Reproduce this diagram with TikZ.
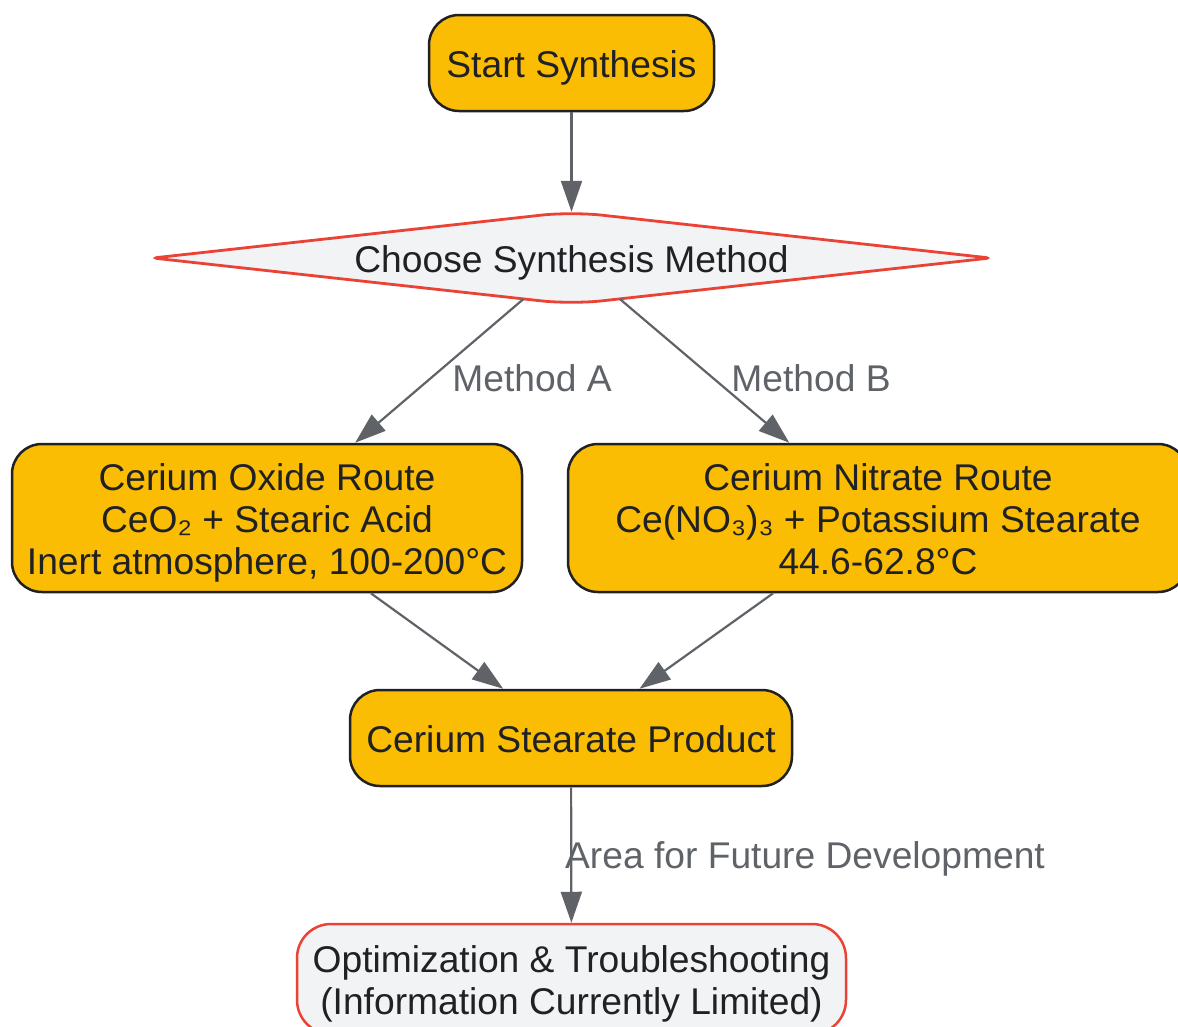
\documentclass[tikz,border=0pt]{standalone}
\usepackage{fontspec}
\setmainfont{Liberation Sans}
\usetikzlibrary{arrows.meta,shapes.geometric,calc}
\definecolor{gold}{HTML}{FBBC04}
\definecolor{redline}{HTML}{EA4335}
\definecolor{lightfill}{HTML}{F1F3F4}
\definecolor{edgegray}{HTML}{5F6368}
\definecolor{textdark}{HTML}{202124}
\newcommand\mystrut{\rule{0pt}{37pt}}
\newcommand\mydepth{\rule[-8pt]{0pt}{8pt}}
\tikzset{
  base/.style={font=\fontsize{37.2}{42}\selectfont, text=textdark, align=center, inner sep=0pt},
  goldbox/.style={base, rectangle, rounded corners=30pt, draw=textdark, line width=2.5pt, fill=gold},
  greybox/.style={base, rectangle, rounded corners=34pt, draw=redline, line width=2.5pt, fill=lightfill},
  choice/.style={base, diamond, draw=none, minimum width=837pt, minimum height=92pt},
  choiceline/.style={draw=redline, line width=2.8pt, fill=lightfill},
  conn/.style={draw=edgegray, line width=2.2pt, -{Triangle[length=31pt,width=21pt]}},
  connlabel/.style={font=\fontsize{37.2}{42}\selectfont, text=edgegray, inner sep=0pt}
}
\begin{document}
\begin{tikzpicture}[x=1pt,y=-1pt]
\useasboundingbox (0,0) rectangle (1178,1026);
\node[goldbox, minimum width=285pt, minimum height=96pt] (start) at (571.5,63) {\mystrut Start Synthesis\mydepth};
\node[choice] (choose) at (571.5,258) {};
\draw[choiceline] ($(choose.west)!.5!(choose.north)$) [rounded corners=30pt] -- (choose.north) [rounded corners=5pt] -- (choose.east) [rounded corners=30pt] -- (choose.south) [rounded corners=5pt] -- (choose.west) -- cycle;
\node[base] at (choose.center) {\mystrut Choose Synthesis Method\mydepth};
\node[goldbox, minimum width=510pt, minimum height=148pt] (oxide) at (267,518) {\mystrut Cerium Oxide Route\\CeO₂ + Stearic Acid\\Inert atmosphere, 100-200°C\mydepth};
\node[goldbox, minimum width=620pt, minimum height=148pt] (nitrate) at (878,518) {\mystrut Cerium Nitrate Route\\Ce(NO₃)₃ + Potassium Stearate\\44.6-62.8°C\mydepth};
\node[goldbox, minimum width=442pt, minimum height=96pt] (product) at (571,738) {\mystrut Cerium Stearate Product\mydepth};
\node[greybox, minimum width=549pt, minimum height=110pt] (opt) at (571.5,979) {\mystrut Optimization \& Troubleshooting\\(Information Currently Limited)\mydepth};
\draw[conn] (start) -- (choose);
\draw[conn] (choose) -- (oxide);
\draw[conn] (choose) -- (nitrate);
\draw[conn] (oxide) -- (product);
\draw[conn] (nitrate) -- (product);
\draw[conn] (product) -- (opt);
\node[connlabel] (la) at (532,378) {Method A};
\node[connlabel] (lb) at (811,378) {Method B};
\node[connlabel] (lc) at (805,859) {Area for Future Development};
\end{tikzpicture}
\end{document}
